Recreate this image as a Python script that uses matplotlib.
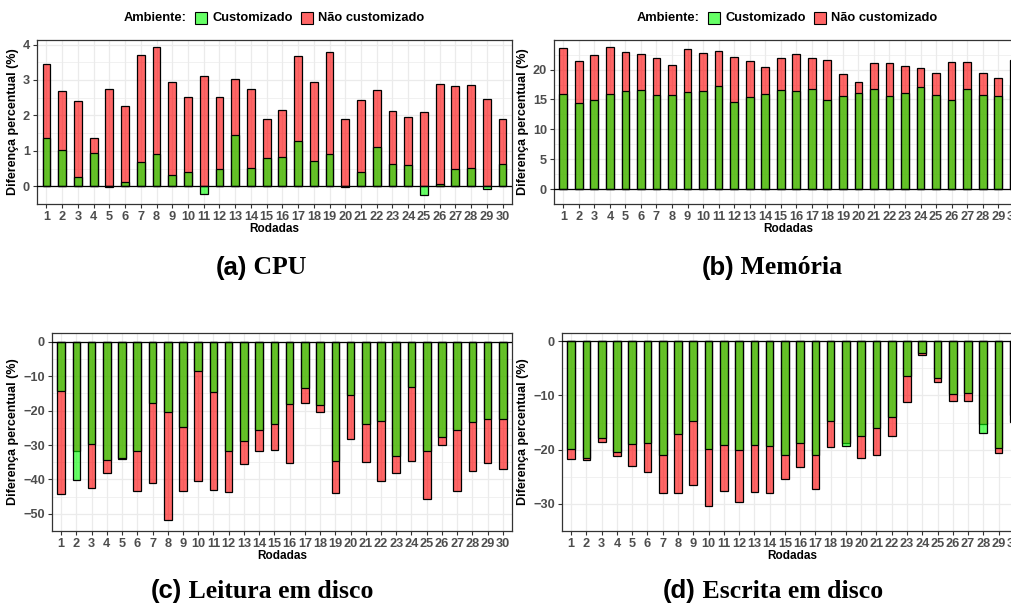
import matplotlib
matplotlib.use("Agg")
import matplotlib.pyplot as plt
from matplotlib.patches import Rectangle
import numpy as np

rodadas = list(range(1, 31))

cpu_custom = [1.37, 1.03, 0.27, 0.94, -0.02, 0.13, 0.69, 0.90, 0.33, 0.41,
              -0.21, 0.49, 1.46, 0.52, 0.80, 0.82, 1.27, 0.72, 0.91, -0.01,
              0.41, 1.12, 0.63, 0.61, -0.26, 0.07, 0.49, 0.53, -0.09, 0.62]
cpu_nao = [3.46, 2.70, 2.41, 1.37, 2.75, 2.27, 3.70, 3.92, 2.93, 2.53,
           3.11, 2.51, 3.04, 2.74, 1.90, 2.14, 3.69, 2.95, 3.79, 1.89,
           2.43, 2.72, 2.13, 1.96, 2.10, 2.88, 2.83, 2.86, 2.46, 1.90]

mem_custom = [15.93, 14.39, 14.97, 15.87, 16.35, 16.61, 15.71, 15.71, 16.24, 16.35,
              17.30, 14.50, 15.40, 15.87, 16.51, 16.35, 16.83, 14.97, 15.56, 16.03,
              16.83, 15.56, 16.08, 17.09, 15.82, 14.97, 16.72, 15.71, 15.56, 17.46]
mem_nao = [23.54, 21.38, 22.43, 23.76, 22.86, 22.59, 21.90, 20.79, 23.49, 22.70,
           23.17, 22.17, 21.38, 20.42, 22.01, 22.59, 22.01, 21.64, 19.21, 17.94,
           21.06, 21.16, 20.58, 20.32, 19.42, 21.22, 21.22, 19.37, 18.57, 21.53]

leit_custom = [-14.2, -40.1, -29.7, -34.3, -33.8, -31.7, -17.9, -20.3, -24.8, -8.5,
               -14.5, -31.8, -28.9, -25.7, -24.0, -18.1, -13.4, -18.5, -34.7, -15.5,
               -23.9, -23.0, -33.1, -13.2, -31.8, -27.8, -25.7, -23.4, -22.5, -22.5]
leit_nao = [-44.2, -31.7, -42.4, -38.0, -34.0, -43.5, -41.1, -51.7, -43.4, -40.6,
            -43.0, -43.8, -35.5, -31.6, -31.4, -35.1, -17.8, -20.5, -44.0, -28.2,
            -34.8, -40.4, -38.1, -34.5, -45.7, -30.1, -43.4, -37.5, -35.3, -36.9]

escr_custom = [-19.8, -21.6, -17.9, -20.5, -18.9, -18.8, -20.9, -17.1, -14.7, -19.9,
               -19.1, -20.1, -19.1, -19.4, -21.0, -18.8, -20.9, -14.7, -19.3, -17.5,
               -16.0, -13.9, -6.4, -2.2, -6.8, -9.8, -9.6, -17.0, -19.7, -13.6]
escr_nao = [-21.7, -21.9, -18.5, -21.2, -23.0, -24.2, -27.9, -28.0, -26.6, -30.3,
            -27.7, -29.6, -27.8, -28.0, -25.5, -23.2, -27.3, -19.6, -18.8, -21.5,
            -20.9, -17.5, -11.2, -2.6, -7.6, -11.1, -11.0, -15.2, -20.7, -14.9]

legend_title = "Ambiente:"
legend_labels = ["Customizado", "Não customizado"]

panels = [
    ("(a)", "CPU", cpu_custom, cpu_nao, [0, 1, 2, 3, 4], True),
    ("(b)", "Memória", mem_custom, mem_nao, [0, 5, 10, 15, 20], True),
    ("(c)", "Leitura em disco", leit_custom, leit_nao, [0, -10, -20, -30, -40, -50], False),
    ("(d)", "Escrita em disco", escr_custom, escr_nao, [0, -10, -20, -30], False),
]

W, H = 1012, 606
fig = plt.figure(figsize=(W / 100, H / 100), dpi=100)

# axes boxes in pixels (left, right, top, bottom)
boxes = [(37, 512, 40, 204), (554, 1023, 40, 204),
         (52, 512, 333, 531), (562, 1023, 333, 531)]
title_cx = [261, 772, 262, 773]
title_y = [268, 268, 591, 591]
legend_cx = [274, 787]
legend_y = 18

RED = (1, 0, 0, 0.6)
GREEN = (0, 1, 0, 0.6)
TICK_GREY = "#4D4D4D"
SANS = "Liberation Sans"

title_parts = []
legend_parts = []
for i, (lab, name, cust, nao, yticks, has_leg) in enumerate(panels):
    l, r, t, b = boxes[i]
    ax = fig.add_axes([l / W, 1 - b / H, (r - l) / W, (b - t) / H])
    x = np.array(rodadas)
    ax.bar(x, nao, width=0.5, color=RED, edgecolor="black", linewidth=0.9, zorder=2)
    ax.bar(x, cust, width=0.5, color=GREEN, edgecolor="black", linewidth=0.9, zorder=3)
    ax.axhline(0, color="black", linewidth=0.9, zorder=4)
    allv = list(cust) + list(nao) + [0]
    lo, hi = min(allv), max(allv)
    span = hi - lo
    ax.set_ylim(lo - 0.05 * span, hi + 0.05 * span)
    ax.set_xlim(0.4, 30.6)
    ax.set_xticks(x)
    ax.set_xticklabels([str(v) for v in rodadas])
    ax.set_yticks(yticks)
    ax.set_yticklabels([("\u2212" + str(abs(v))) if v < 0 else str(v) for v in yticks])
    ystep = abs(yticks[1] - yticks[0])
    ymin, ymax = ax.get_ylim()
    minor = np.arange(np.floor(ymin / ystep) * ystep + ystep / 2, ymax, ystep)
    ax.set_yticks(minor, minor=True)
    ax.grid(True, which="major", color="#EBEBEB", linewidth=0.9, zorder=0)
    ax.grid(True, which="minor", axis="y", color="#EBEBEB", linewidth=0.5, zorder=0)
    ax.set_axisbelow(True)
    ax.tick_params(axis="both", which="major", length=3, width=0.8, color="#333333",
                   labelsize=9.2, labelcolor=TICK_GREY, pad=2)
    ax.tick_params(axis="y", which="minor", length=0)
    for tl in ax.get_xticklabels() + ax.get_yticklabels():
        tl.set_fontweight("bold")
        tl.set_fontfamily(SANS)
    for sp in ax.spines.values():
        sp.set_color("#333333")
        sp.set_linewidth(0.9)
    ax.set_xlabel("Rodadas", fontsize=8.5, fontweight="bold", family=SANS, labelpad=0)
    ax.set_ylabel("Diferença percentual (%)", fontsize=9, fontweight="bold",
                  family=SANS, labelpad=3)

    if has_leg:
        yf = 1 - legend_y / H
        tt = fig.text(0, yf, legend_title, ha="left", va="center", fontsize=9.3,
                      fontweight="bold", family=SANS)
        t_a = fig.text(0, yf, legend_labels[0], ha="left", va="center", fontsize=9.3,
                       fontweight="bold", family=SANS)
        t_b = fig.text(0, yf, legend_labels[1], ha="left", va="center", fontsize=9.3,
                       fontweight="bold", family=SANS)
        k_a = Rectangle((0, 0), 12 / W, 12 / H, transform=fig.transFigure,
                        facecolor=GREEN, edgecolor="black", linewidth=0.8)
        k_b = Rectangle((0, 0), 12 / W, 12 / H, transform=fig.transFigure,
                        facecolor=RED, edgecolor="black", linewidth=0.8)
        fig.add_artist(k_a)
        fig.add_artist(k_b)
        legend_parts.append((legend_cx[i], tt, k_a, t_a, k_b, t_b))

    t1 = fig.text(0, 1 - title_y[i] / H, lab, ha="left", va="center", fontsize=18.5,
                  fontweight="bold", family=SANS)
    t2 = fig.text(0, 1 - title_y[i] / H, " " + name, ha="left", va="center", fontsize=18.5,
                  fontweight="bold", family="Liberation Serif")
    title_parts.append((t1, t2, title_cx[i]))

fig.canvas.draw()
rend = fig.canvas.get_renderer()
for t1, t2, cx in title_parts:
    w1 = t1.get_window_extent(rend).width
    w2 = t2.get_window_extent(rend).width
    x0 = cx - (w1 + w2) / 2
    t1.set_x(x0 / W)
    t2.set_x((x0 + w1) / W)

for cx, tt, k_a, t_a, k_b, t_b in legend_parts:
    wt = tt.get_window_extent(rend).width
    wa = t_a.get_window_extent(rend).width
    wb = t_b.get_window_extent(rend).width
    gap_k, gap_t, key = 8, 5, 12
    total = wt + gap_k + key + gap_t + wa + gap_k + key + gap_t + wb
    x = cx - total / 2
    tt.set_x(x / W); x += wt + gap_k
    k_a.set_xy((x / W, 1 - (legend_y + 6) / H)); x += key + gap_t
    t_a.set_x(x / W); x += wa + gap_k
    k_b.set_xy((x / W, 1 - (legend_y + 6) / H)); x += key + gap_t
    t_b.set_x(x / W)

fig.savefig("out.png", dpi=100)
